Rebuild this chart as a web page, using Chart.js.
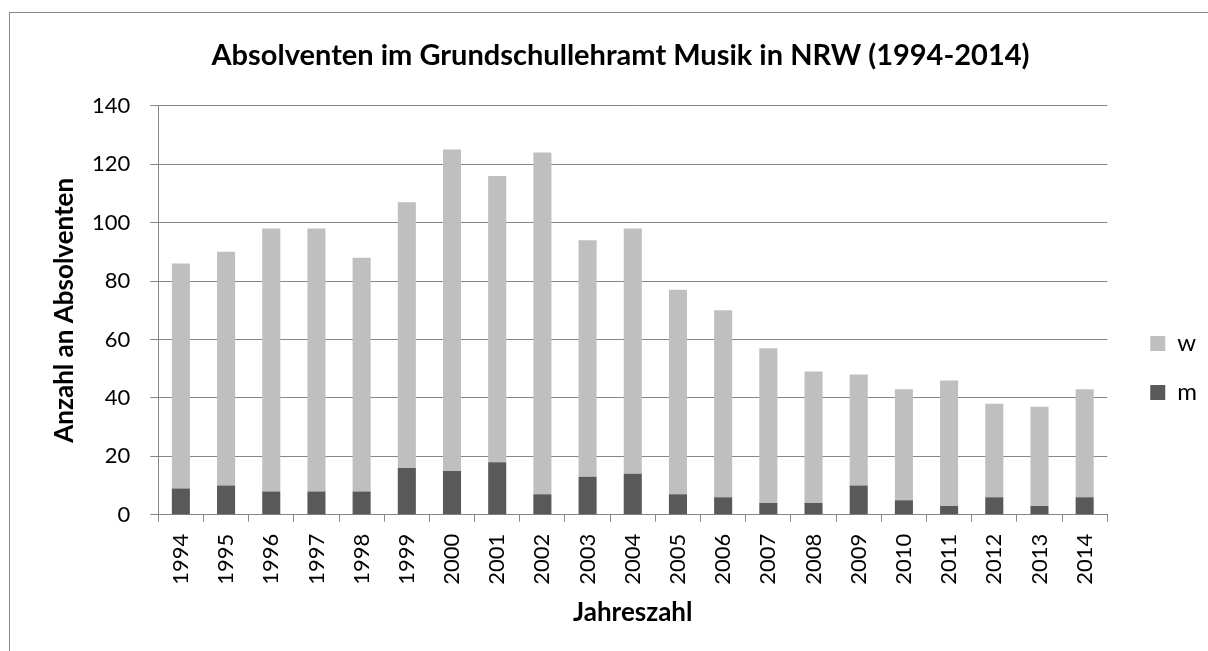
<!DOCTYPE html>
<html>
<head>
<meta charset="utf-8">
<script src="https://cdn.jsdelivr.net/npm/chart.js@4/dist/chart.umd.min.js"></script>
<style>
  html, body { margin: 0; padding: 0; background: #fff; }
  #wrap { position: relative; width: 1208px; height: 651px; overflow: hidden; }
  #frame {
    position: absolute; left: 9px; top: 12px; width: 1300px; height: 700px;
    border-left: 1px solid #868686; border-top: 1px solid #868686;
  }
  #chart { position: absolute; left: 0; top: 0; }
</style>
</head>
<body>
<div id="wrap">
  <div id="frame"></div>
  <canvas id="chart" width="1208" height="651"></canvas>
</div>
<script>
var years = ["1994", "1995", "1996", "1997", "1998", "1999", "2000", "2001", "2002", "2003", "2004",
  "2005", "2006", "2007", "2008", "2009", "2010", "2011", "2012", "2013", "2014"];
// maennlich (unten) und weiblich (oben), gestapelt
var maennlich = [9, 10, 8, 8, 8, 16, 15, 18, 7, 13, 14, 7, 6, 4, 4, 10, 5, 3, 6, 3, 6];
var weiblich = [77, 80, 90, 90, 80, 91, 110, 98, 117, 81, 84, 70, 64, 53, 45, 38, 38, 43, 32, 34, 37];
var yTicks = [0, 20, 40, 60, 80, 100, 120, 140];

var gridGrey = "#868686";
var fontName = "Lato, Carlito, 'Open Sans', sans-serif";

// Legende etwas nach rechts unten schieben (wie im Original neben dem Diagramm)
var legendShift = {
  id: "legendShift",
  afterLayout: function(chart) {
    var lg = chart.legend;
    lg.left += 18;
    lg.right += 18;
    lg.top += 48;
    lg.bottom += 48;
  }
};

var chart = new Chart(document.getElementById("chart"), {
  type: "bar",
  data: {
    labels: years,
    datasets: [
      {
        label: "m",
        data: maennlich,
        backgroundColor: "#595959",
        borderWidth: 0,
        barPercentage: 0.4,
        categoryPercentage: 1
      },
      {
        label: "w",
        data: weiblich,
        backgroundColor: "#bfbfbf",
        borderWidth: 0,
        barPercentage: 0.4,
        categoryPercentage: 1
      }
    ]
  },
  plugins: [legendShift],
  options: {
    responsive: false,
    animation: false,
    devicePixelRatio: 1,
    layout: {
      padding: { left: 52, right: 19, top: 12, bottom: 23 }
    },
    plugins: {
      title: {
        display: true,
        text: "Absolventen im Grundschullehramt Musik in NRW (1994-2014)",
        color: "#000",
        font: { family: fontName, size: 29, weight: "bold" },
        padding: { top: 26, bottom: 33 }
      },
      legend: {
        position: "right",
        reverse: true,
        labels: {
          color: "#000",
          font: { family: fontName, size: 24 },
          boxWidth: 15,
          boxHeight: 15,
          padding: 25
        }
      },
      tooltip: { enabled: false }
    },
    scales: {
      x: {
        stacked: true,
        offset: true,
        grid: {
          offset: true,
          drawOnChartArea: false,
          drawTicks: true,
          tickLength: 7,
          color: gridGrey
        },
        border: { color: gridGrey, width: 1 },
        ticks: {
          color: "#000",
          font: { family: fontName, size: 22 },
          minRotation: 90,
          maxRotation: 90,
          padding: 12,
          autoSkip: false
        },
        title: {
          display: true,
          text: "Jahreszahl",
          color: "#000",
          font: { family: fontName, size: 26, weight: "bold", lineHeight: 1.2 },
          padding: { top: 0, bottom: 0 }
        }
      },
      y: {
        stacked: true,
        min: 0,
        max: 140,
        afterBuildTicks: function(axis) {
          axis.ticks = yTicks.map(function(v) { return { value: v }; });
        },
        grid: {
          color: gridGrey,
          lineWidth: 1,
          tickLength: 8
        },
        border: { color: gridGrey, width: 1 },
        ticks: {
          color: "#000",
          font: { family: fontName, size: 22 },
          padding: 20
        },
        title: {
          display: true,
          text: "Anzahl an Absolventen",
          color: "#000",
          font: { family: fontName, size: 26, weight: "bold", lineHeight: 1 },
          padding: { top: 0, bottom: -6 }
        }
      }
    }
  }
});
</script>
</body>
</html>
